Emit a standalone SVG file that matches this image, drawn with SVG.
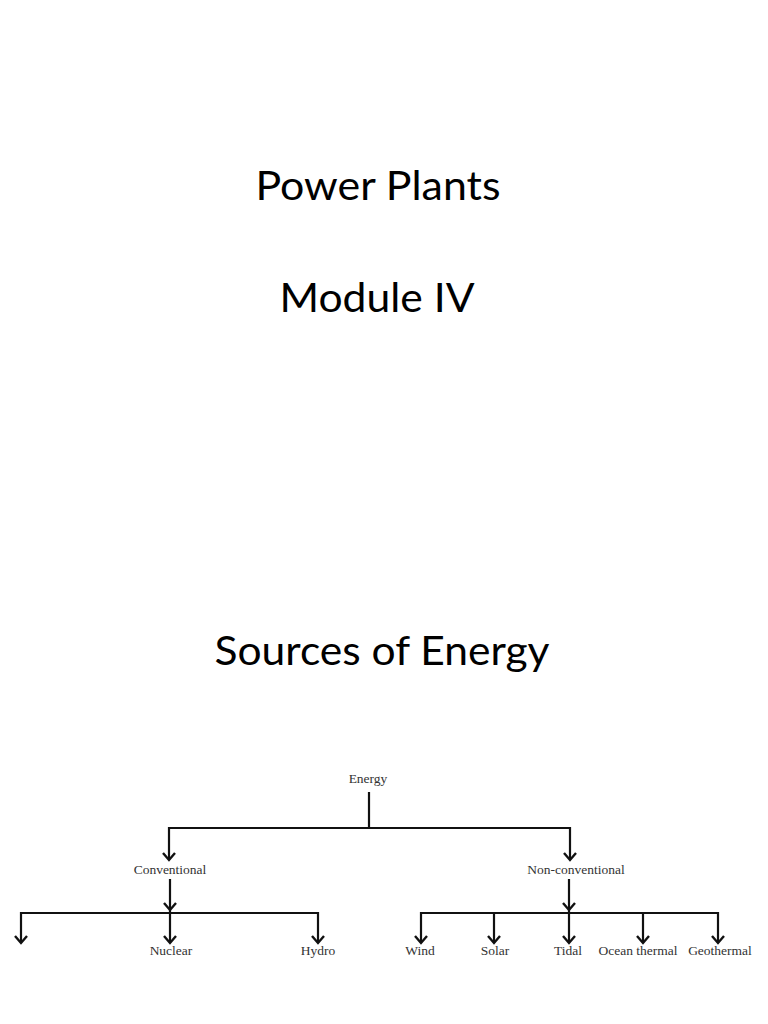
<svg xmlns="http://www.w3.org/2000/svg" width="768" height="1024" viewBox="0 0 768 1024">
<style>
.title{font-family:Lato,"Open Sans","Liberation Sans",sans-serif;font-size:40px;fill:#000;text-anchor:middle}
.lbl{font-family:"Liberation Serif","Times New Roman",serif;font-size:13.5px;fill:#333;text-anchor:middle}
.ln{stroke:#111;stroke-width:2.2;fill:none}
</style>
<defs>
<marker id="ah" viewBox="0 0 12 14" refX="9" refY="7" markerWidth="12" markerHeight="14" markerUnits="userSpaceOnUse" orient="auto">
<path d="M2,1 L9,7 L2,13" stroke="#111" stroke-width="2.4" fill="none"/>
</marker>
</defs>
<rect width="768" height="1024" fill="#fff"/>
<text class="title" x="378" y="200" textLength="245" lengthAdjust="spacingAndGlyphs">Power Plants</text>
<text class="title" x="377" y="312" textLength="195" lengthAdjust="spacingAndGlyphs">Module IV</text>
<text class="title" x="382" y="665" textLength="335" lengthAdjust="spacingAndGlyphs">Sources of Energy</text>
<g id="connectors">
<path class="ln" d="M369,792 V828"/>
<path class="ln" d="M169,828 H570"/>
<path class="ln" d="M169,827 V860" marker-end="url(#ah)"/>
<path class="ln" d="M570,827 V860" marker-end="url(#ah)"/>
<path class="ln" d="M170,879 V910" marker-end="url(#ah)"/>
<path class="ln" d="M569,879 V910" marker-end="url(#ah)"/>
<path class="ln" d="M21,913 H318"/>
<path class="ln" d="M421,913 H718"/>
<path class="ln" d="M21,912 V943" marker-end="url(#ah)"/>
<path class="ln" d="M170,910 V943" marker-end="url(#ah)"/>
<path class="ln" d="M318,912 V943" marker-end="url(#ah)"/>
<path class="ln" d="M421,912 V943" marker-end="url(#ah)"/>
<path class="ln" d="M494,912 V943" marker-end="url(#ah)"/>
<path class="ln" d="M569,910 V943" marker-end="url(#ah)"/>
<path class="ln" d="M643,912 V943" marker-end="url(#ah)"/>
<path class="ln" d="M718,912 V943" marker-end="url(#ah)"/>
</g>
<g id="energy"><text class="lbl" x="368" y="783">Energy</text></g>
<g id="conventional"><text class="lbl" x="170" y="874">Conventional</text></g>
<g id="nonconventional"><text class="lbl" x="576" y="874">Non-conventional</text></g>
<g id="nuclear"><text class="lbl" x="171" y="955">Nuclear</text></g>
<g id="hydro"><text class="lbl" x="318" y="955">Hydro</text></g>
<g id="wind"><text class="lbl" x="420" y="955">Wind</text></g>
<g id="solar"><text class="lbl" x="495" y="955">Solar</text></g>
<g id="tidal"><text class="lbl" x="568" y="955">Tidal</text></g>
<g id="ocean"><text class="lbl" x="638" y="955">Ocean thermal</text></g>
<g id="geothermal"><text class="lbl" x="720" y="955">Geothermal</text></g>
</svg>
